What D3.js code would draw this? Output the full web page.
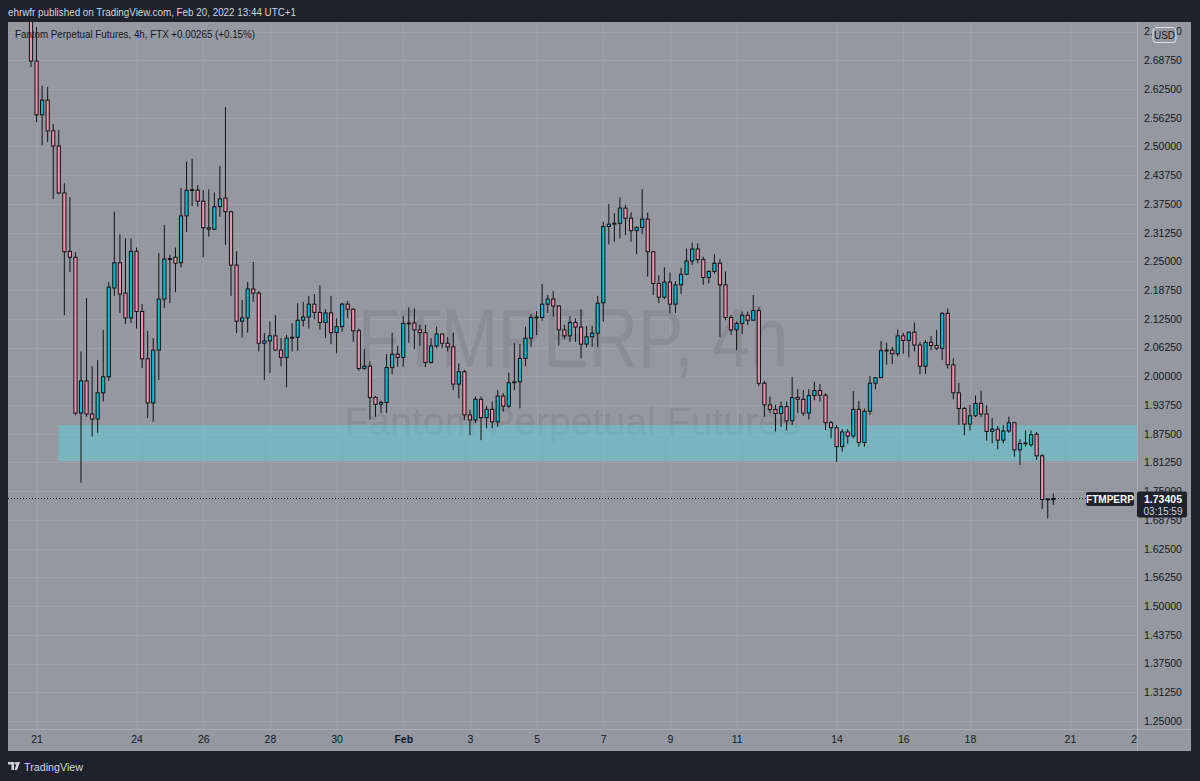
<!DOCTYPE html>
<html>
<head>
<meta charset="utf-8">
<script src="https://cdn.jsdelivr.net/npm/d3@7"></script>
<style>
html, body { margin: 0; padding: 0; background: #1e222d; }
svg { display: block; font-family: "Liberation Sans", Arial, sans-serif; }
</style>
</head>
<body>
<svg id="chart" width="1200" height="781"></svg>
<script>
// FTMPERP 4h candles, last one opened Feb 20 12:00 UTC
var lastCandle = '2022-02-20T12:00:00Z';

var open = [2.780,2.686,2.569,2.601,2.534,2.501,2.399,2.272,2.259,1.920,1.990,1.918,1.907,1.964,1.999,2.192,2.247,2.181,2.127,2.272,
  2.141,2.038,1.942,2.057,2.168,2.255,2.259,2.247,2.349,2.405,2.405,2.381,2.323,2.320,2.369,2.388,2.358,2.242,2.120,2.127,
  2.190,2.181,2.072,2.077,2.088,2.057,2.041,2.083,2.085,2.122,2.129,2.157,2.139,2.117,2.138,2.095,2.108,2.157,2.146,2.099,
  2.017,2.022,1.954,1.939,1.943,2.019,2.048,2.041,2.115,2.116,2.101,2.095,2.030,2.066,2.092,2.072,2.064,1.983,2.010,1.916,
  1.905,1.950,1.910,1.928,1.901,1.957,1.935,1.986,1.988,2.039,2.083,2.128,2.128,2.157,2.168,2.153,2.101,2.088,2.117,2.107,
  2.070,2.086,2.094,2.160,2.326,2.331,2.333,2.366,2.344,2.317,2.324,2.342,2.271,2.202,2.172,2.205,2.157,2.199,2.222,2.251,
  2.277,2.254,2.215,2.228,2.246,2.199,2.128,2.101,2.115,2.133,2.122,2.143,1.985,1.938,1.928,1.919,1.934,1.903,1.954,1.950,
  1.920,1.958,1.969,1.959,1.899,1.888,1.847,1.879,1.870,1.928,1.856,1.924,1.985,1.997,2.056,2.057,2.049,2.088,2.078,2.096,
  2.068,2.022,2.074,2.067,2.061,2.137,2.025,1.964,1.930,1.896,1.914,1.941,1.918,1.880,1.885,1.861,1.881,1.899,1.840,1.854,
  1.851,1.874,1.827,1.733,1.7314];
var high = [2.820,2.760,2.632,2.630,2.549,2.536,2.420,2.390,2.270,2.054,2.170,2.022,2.035,2.101,2.205,2.358,2.309,2.300,2.300,2.280,
  2.157,2.099,2.083,2.268,2.329,2.265,2.280,2.410,2.467,2.473,2.416,2.405,2.407,2.400,2.458,2.586,2.360,2.272,2.166,2.205,
  2.249,2.185,2.094,2.119,2.133,2.083,2.090,2.116,2.159,2.162,2.175,2.179,2.198,2.146,2.175,2.126,2.160,2.164,2.148,2.104,
  2.059,2.032,1.957,1.947,2.048,2.095,2.066,2.131,2.150,2.148,2.112,2.112,2.083,2.108,2.093,2.085,2.095,2.028,2.014,1.927,
  1.956,1.956,1.935,1.945,1.970,1.963,2.008,2.072,2.070,2.108,2.135,2.142,2.201,2.177,2.186,2.155,2.112,2.131,2.126,2.146,
  2.109,2.110,2.175,2.336,2.375,2.355,2.389,2.373,2.357,2.326,2.407,2.356,2.272,2.220,2.237,2.226,2.207,2.236,2.278,2.291,
  2.289,2.260,2.231,2.266,2.255,2.228,2.133,2.119,2.141,2.141,2.177,2.150,1.990,1.956,1.938,1.945,1.945,1.999,1.972,1.970,
  1.972,1.988,1.983,1.963,1.903,1.894,1.885,1.885,1.968,1.946,1.930,2.001,1.998,2.077,2.073,2.064,2.102,2.095,2.097,2.117,
  2.075,2.079,2.088,2.101,2.139,2.148,2.039,1.986,1.933,1.937,1.958,1.969,1.937,1.909,1.892,1.894,1.912,1.901,1.863,1.882,
  1.882,1.879,1.831,1.733,1.745];
var low = [2.673,2.553,2.503,2.510,2.386,2.396,2.133,2.227,1.915,1.769,1.912,1.869,1.877,1.945,1.990,2.175,2.138,2.114,2.116,2.104,
  2.018,1.909,1.901,1.992,2.149,2.159,2.183,2.237,2.314,2.370,2.369,2.259,2.304,2.318,2.347,2.286,2.175,2.094,2.084,2.095,
  2.162,2.054,1.992,2.007,2.056,2.022,1.976,2.054,2.055,2.108,2.104,2.124,2.101,2.083,2.070,2.050,2.097,2.126,2.075,2.012,
  2.014,1.906,1.912,1.920,1.920,2.005,2.021,2.021,2.073,2.059,2.066,2.020,2.028,2.061,2.061,2.054,1.970,1.952,1.905,1.872,
  1.898,1.861,1.887,1.887,1.890,1.923,1.930,1.970,1.930,2.022,2.064,2.090,2.121,2.138,2.130,2.067,2.081,2.075,2.075,2.039,
  2.063,2.064,2.064,2.119,2.287,2.293,2.300,2.307,2.293,2.266,2.309,2.217,2.177,2.159,2.168,2.137,2.138,2.179,2.221,2.242,
  2.246,2.199,2.202,2.223,2.086,2.122,2.090,2.057,2.092,2.112,2.121,1.979,1.912,1.920,1.880,1.890,1.882,1.894,1.920,1.914,
  1.906,1.948,1.945,1.883,1.865,1.814,1.836,1.853,1.865,1.847,1.847,1.916,1.972,1.996,2.025,2.027,2.043,2.049,2.041,2.054,
  2.005,2.005,2.057,2.057,2.035,2.017,1.950,1.894,1.872,1.882,1.911,1.911,1.860,1.854,1.841,1.854,1.877,1.825,1.807,1.847,
  1.847,1.818,1.711,1.691,1.720];
var close = [2.686,2.569,2.601,2.534,2.501,2.399,2.271,2.259,1.920,1.990,1.918,1.907,1.964,1.999,2.194,2.247,2.179,2.127,2.272,2.141,
  2.038,1.942,2.057,2.168,2.255,2.256,2.246,2.349,2.405,2.406,2.381,2.323,2.320,2.369,2.386,2.358,2.242,2.120,2.127,2.190,
  2.181,2.072,2.077,2.088,2.057,2.041,2.083,2.085,2.122,2.129,2.157,2.139,2.117,2.138,2.095,2.108,2.157,2.146,2.099,2.017,
  2.022,1.954,1.939,1.943,2.019,2.048,2.041,2.115,2.116,2.101,2.095,2.030,2.066,2.092,2.072,2.064,1.983,2.010,1.916,1.905,
  1.950,1.910,1.928,1.901,1.957,1.935,1.986,1.988,2.039,2.083,2.128,2.129,2.157,2.168,2.153,2.101,2.088,2.117,2.107,2.070,
  2.086,2.094,2.159,2.326,2.331,2.333,2.366,2.344,2.317,2.324,2.342,2.271,2.202,2.172,2.205,2.157,2.199,2.222,2.251,2.277,
  2.254,2.215,2.228,2.246,2.199,2.128,2.101,2.115,2.133,2.122,2.143,1.985,1.938,1.928,1.919,1.934,1.903,1.954,1.950,1.920,
  1.958,1.969,1.959,1.899,1.888,1.847,1.879,1.870,1.928,1.856,1.924,1.985,1.997,2.056,2.057,2.049,2.088,2.078,2.096,2.068,
  2.022,2.074,2.067,2.061,2.137,2.025,1.964,1.930,1.896,1.914,1.941,1.918,1.880,1.885,1.861,1.881,1.899,1.840,1.854,1.855,
  1.873,1.827,1.732,1.7314,1.73405];

var priceTicks = [1.25,1.3125,1.375,1.4375,1.5,1.5625,1.625,1.6875,1.75,1.8125,1.875,1.9375,2.0,
  2.0625,2.125,2.1875,2.25,2.3125,2.375,2.4375,2.5,2.5625,2.625,2.6875,2.75];
var timeTicks = ['2022-01-21','2022-01-24','2022-01-26','2022-01-28','2022-01-30','2022-02-01','2022-02-03','2022-02-05',
  '2022-02-07','2022-02-09','2022-02-11','2022-02-14','2022-02-16','2022-02-18','2022-02-21','2022-02-23'];
var timeLabels = ['21','24','26','28','30','Feb','3','5','7','9','11','14','16','18','21','23'];

var zone = { start: '2022-01-21T15:40:00Z', low: 1.8157, high: 1.894 };
var lastPrice = 1.73405;

var W = 1200, H = 781;
var pane = { left: 8, top: 22, right: 1191, bottom: 751 };
var plotRight = 1137, plotBottom = 729;

var step = 4 * 3600 * 1000;
var tLast = new Date(lastCandle).getTime();
var candles = close.map(function(c, i) {
  return { t: new Date(tLast - (close.length - 1 - i) * step), o: open[i], h: high[i], l: low[i], c: c };
});

var x = d3.scaleTime()
  .domain([candles[0].t, candles[candles.length - 1].t])
  .range([31, 1053.3]);
var y = d3.scaleLinear().domain([1.25, 2.75]).range([721, 31.6]);

var svg = d3.select('#chart');

svg.append('rect').attr('width', W).attr('height', H).attr('fill', '#1e222d');
svg.append('text').attr('x', 8).attr('y', 16)
  .attr('fill', '#d1d4dc').attr('font-size', 11)
  .attr('textLength', 288).attr('lengthAdjust', 'spacingAndGlyphs')
  .text('ehrwfr published on TradingView.com, Feb 20, 2022 13:44 UTC+1');

svg.append('rect')
  .attr('x', pane.left).attr('y', pane.top)
  .attr('width', pane.right - pane.left).attr('height', pane.bottom - pane.top)
  .attr('fill', '#9598a1');

var defs = svg.append('defs');
defs.append('clipPath').attr('id', 'plotClip').append('rect')
  .attr('x', pane.left).attr('y', pane.top)
  .attr('width', plotRight - pane.left).attr('height', plotBottom - pane.top);
defs.append('clipPath').attr('id', 'timeClip').append('rect')
  .attr('x', pane.left).attr('y', plotBottom)
  .attr('width', plotRight - pane.left).attr('height', pane.bottom - plotBottom);

var plot = svg.append('g').attr('clip-path', 'url(#plotClip)');

// grid
plot.append('g').selectAll('line').data(priceTicks).enter().append('line')
  .attr('x1', pane.left).attr('x2', plotRight)
  .attr('y1', function(d) { return Math.round(y(d)) + 0.5; })
  .attr('y2', function(d) { return Math.round(y(d)) + 0.5; })
  .attr('stroke', '#9ea1a9').attr('stroke-width', 1);
plot.append('g').selectAll('line').data(timeTicks).enter().append('line')
  .attr('x1', function(d) { return Math.round(x(new Date(d + 'T00:00:00Z'))) + 0.5; })
  .attr('x2', function(d) { return Math.round(x(new Date(d + 'T00:00:00Z'))) + 0.5; })
  .attr('y1', pane.top).attr('y2', plotBottom)
  .attr('stroke', '#9ea1a9').attr('stroke-width', 1);

// watermark
plot.append('text').attr('x', 573).attr('y', 367)
  .attr('text-anchor', 'middle').attr('font-size', 84)
  .attr('textLength', 430).attr('lengthAdjust', 'spacingAndGlyphs')
  .attr('fill', '#8a8d96').text('FTMPERP, 4h');
plot.append('text').attr('x', 572).attr('y', 435)
  .attr('text-anchor', 'middle').attr('font-size', 39)
  .attr('textLength', 455).attr('lengthAdjust', 'spacingAndGlyphs')
  .attr('fill', '#8a8d96').text('Fantom Perpetual Futures');

// support zone
plot.append('rect')
  .attr('x', x(new Date(zone.start))).attr('y', y(zone.high))
  .attr('width', plotRight - x(new Date(zone.start)))
  .attr('height', y(zone.low) - y(zone.high))
  .attr('fill', '#5ecfde').attr('fill-opacity', 0.5);

// last price line
plot.append('line')
  .attr('x1', pane.left).attr('x2', 1086)
  .attr('y1', y(lastPrice)).attr('y2', y(lastPrice))
  .attr('stroke', '#131722').attr('stroke-width', 1).attr('stroke-dasharray', '1,2');

// candles
var bw = 3.2;
plot.append('g').selectAll('line').data(candles).enter().append('line')
  .attr('x1', function(d) { return x(d.t); })
  .attr('x2', function(d) { return x(d.t); })
  .attr('y1', function(d) { return y(d.h); })
  .attr('y2', function(d) { return y(d.l); })
  .attr('stroke', '#111').attr('stroke-width', 1);
plot.append('g').selectAll('rect').data(candles).enter().append('rect')
  .attr('x', function(d) { return x(d.t) - bw / 2; })
  .attr('y', function(d) { return y(Math.max(d.o, d.c)); })
  .attr('width', bw)
  .attr('height', function(d) { return Math.max(0.8, Math.abs(y(d.o) - y(d.c))); })
  .attr('fill', function(d) { return d.c >= d.o ? '#00bcd4' : '#f48fb1'; })
  .attr('stroke', '#111').attr('stroke-width', 1);

// legend
svg.append('text').attr('x', 15).attr('y', 38)
  .attr('fill', '#131722').attr('font-size', 11)
  .attr('textLength', 240).attr('lengthAdjust', 'spacingAndGlyphs')
  .text('Fantom Perpetual Futures, 4h, FTX  +0.00265 (+0.15%)');

// separators
svg.append('line').attr('x1', plotRight + 0.5).attr('x2', plotRight + 0.5)
  .attr('y1', pane.top).attr('y2', pane.bottom).attr('stroke', '#a9acb4');
svg.append('line').attr('x1', pane.left).attr('x2', pane.right)
  .attr('y1', plotBottom + 0.5).attr('y2', plotBottom + 0.5).attr('stroke', '#a9acb4');

// price axis
var yAxis = svg.append('g')
  .attr('transform', 'translate(' + (plotRight + 7) + ',0)')
  .call(d3.axisRight(y).tickValues(priceTicks).tickFormat(d3.format('.5f')).tickSize(0).tickPadding(0));
yAxis.select('.domain').remove();
yAxis.selectAll('text').attr('fill', '#131722').attr('font-size', 10.5)
  .attr('font-family', '"Liberation Sans", Arial, sans-serif');

// usd badge
svg.append('rect').attr('x', 1153).attr('y', 27.5).attr('width', 23).attr('height', 15).attr('rx', 3)
  .attr('fill', '#9598a1').attr('stroke', '#dfe1e6').attr('stroke-width', 1);
svg.append('text').attr('x', 1164.5).attr('y', 38.5).attr('text-anchor', 'middle')
  .attr('fill', '#131722').attr('font-size', 10).text('USD');

// time axis
var xAxis = svg.append('g').attr('clip-path', 'url(#timeClip)').append('g')
  .attr('transform', 'translate(0,' + (plotBottom + 7) + ')')
  .call(d3.axisBottom(x)
    .tickValues(timeTicks.map(function(d) { return new Date(d + 'T00:00:00Z'); }))
    .tickFormat(function(d, i) { return timeLabels[i]; })
    .tickSize(0).tickPadding(0));
xAxis.select('.domain').remove();
xAxis.selectAll('text').attr('fill', '#131722').attr('font-size', 10.5)
  .attr('font-family', '"Liberation Sans", Arial, sans-serif')
  .attr('font-weight', function(d, i) { return timeLabels[i] === 'Feb' ? 'bold' : 'normal'; });

// symbol and price labels
svg.append('rect').attr('x', 1086).attr('y', y(lastPrice) - 6.5).attr('width', 48).attr('height', 14).attr('rx', 2)
  .attr('fill', '#1e222d');
svg.append('text').attr('x', 1110).attr('y', y(lastPrice) + 4).attr('text-anchor', 'middle')
  .attr('fill', '#ffffff').attr('font-size', 10).attr('font-weight', 'bold').text('FTMPERP');
svg.append('rect').attr('x', 1137).attr('y', y(lastPrice) - 7).attr('width', 50).attr('height', 26).attr('rx', 2)
  .attr('fill', '#1e222d');
svg.append('text').attr('x', 1163).attr('y', y(lastPrice) + 4.5).attr('text-anchor', 'middle')
  .attr('fill', '#ffffff').attr('font-size', 10.5).attr('font-weight', 'bold').text(d3.format('.5f')(lastPrice));
svg.append('text').attr('x', 1163).attr('y', y(lastPrice) + 16).attr('text-anchor', 'middle')
  .attr('fill', '#d1d4dc').attr('font-size', 10).text('03:15:59');

// footer logo
var logo = svg.append('g').attr('transform', 'translate(8,762)');
logo.append('path').attr('d', 'M0,0 H6 V8 H3.5 V2.5 H0 Z').attr('fill', '#d1d4dc');
logo.append('circle').attr('cx', 7.8).attr('cy', 1.3).attr('r', 1.3).attr('fill', '#d1d4dc');
logo.append('path').attr('d', 'M9,0 H12 L9,8 H6.5 Z').attr('fill', '#d1d4dc');
svg.append('text').attr('x', 24).attr('y', 771)
  .attr('fill', '#d1d4dc').attr('font-size', 11)
  .attr('textLength', 59).attr('lengthAdjust', 'spacingAndGlyphs').text('TradingView');
</script>
</body>
</html>
